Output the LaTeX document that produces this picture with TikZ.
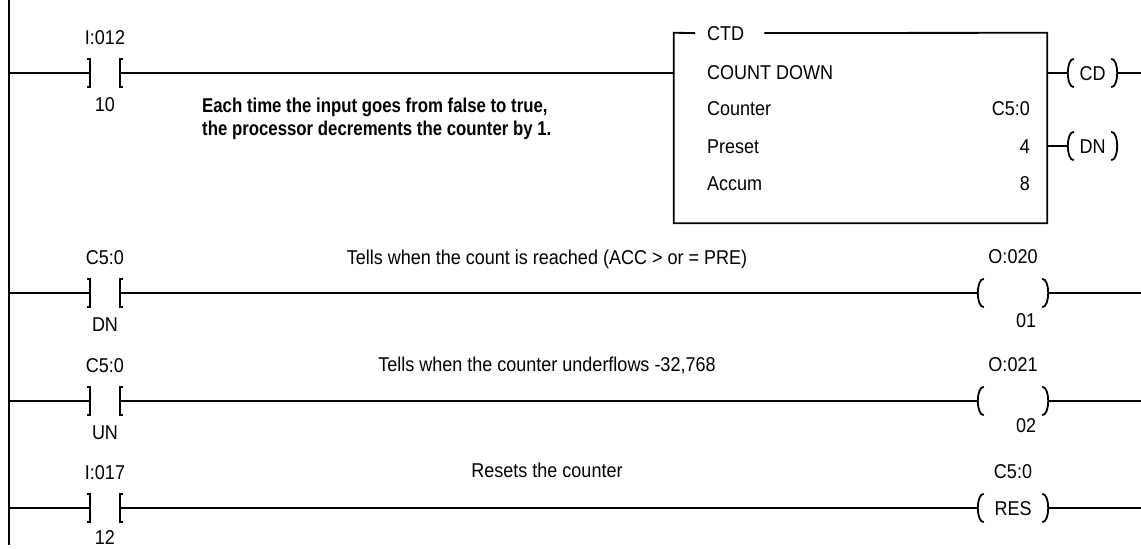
\documentclass[tikz,border=0pt]{standalone}
\usepackage{fontspec}
\setmainfont{Liberation Sans}[FakeStretch=0.9, BoldFeatures={FakeStretch=0.84}]
\usetikzlibrary{positioning}

\begin{document}
\begin{tikzpicture}[x=1pt, y=-1pt, font=\fontsize{20}{23}\selectfont,
    wire/.style = {line width=1.8pt},
    rail/.style = {line width=2.8pt},
    tag/.style = {inner sep=0pt, text height=14pt, text depth=0pt},
    contact/.style = {minimum width=30pt, minimum height=27pt, inner sep=0pt},
    coil/.style = {tag, minimum height=28pt}]
  \useasboundingbox (0,0) rectangle (1141,549);

  % power rail
  \coordinate (railtop) at (9,0);
  \coordinate (railbot) at (9,545);
  \coordinate (edge) at (1141,0);
  \draw[rail] (railtop) -- (railbot);

  % contacts
  \node[contact] (c1) at (105,73) {};
  \node[contact] (c2) at (105,293) {};
  \node[contact] (c3) at (105,401) {};
  \node[contact] (c4) at (105,508) {};
  \node[tag, above=15pt of c1] (c1a) {I:012};
  \node[tag, below=11pt of c1] (c1b) {10};
  \node[tag, above=15pt of c2] (c2a) {C5:0};
  \node[tag, below=11pt of c2] (c2b) {DN};
  \node[tag, above=15pt of c3] (c3a) {C5:0};
  \node[tag, below=11pt of c3] (c3b) {UN};
  \node[tag, above=15pt of c4] (c4a) {I:017};
  \node[tag, below=9pt of c4] (c4b) {12};
  \foreach \c in {c1, c2, c3, c4} {
    \draw[wire] ([xshift=-3pt]\c.north west) -- (\c.north west) -- (\c.south west) -- ++(-3pt,0);
    \draw[wire] ([xshift=3pt]\c.north east) -- (\c.north east) -- (\c.south east) -- ++(3pt,0);
  }

  % counter block
  \node[minimum width=373pt, minimum height=190pt, inner sep=0pt] (ctd) at (860.5,128) {};
  \node[tag, anchor=west] (ctdt) at (707,33) {CTD};
  \draw[wire] ([xshift=-12pt]ctdt.west) -- (ctd.north west) -- (ctd.south west)
    -- (ctd.south east) -- (ctd.north east) -- ([xshift=20pt]ctdt.east);
  \node[tag, anchor=west] (name) at (707,72) {COUNT DOWN};
  \node[tag, anchor=west] (cnt) at (707,108) {Counter};
  \node[tag, anchor=west] (pre) at (707,146) {Preset};
  \node[tag, anchor=west] (acc) at (707,183) {Accum};
  \node[tag, anchor=east] (cntv) at (1030,108) {C5:0};
  \node[tag, anchor=east] (prev) at (1030,146) {4};
  \node[tag, anchor=east] (accv) at (1030,183) {8};

  % coils
  \node[coil, minimum width=49pt] (cd) at (1092.5,73) {CD};
  \node[coil, minimum width=49pt] (dn) at (1092.5,146) {DN};
  \node[coil, minimum width=70pt] (o2) at (1013,293) {};
  \node[coil, minimum width=70pt] (o3) at (1013,401) {};
  \node[coil, minimum width=70pt] (o4) at (1013,508) {RES};
  \node[tag, above=15pt of o2] (o2a) {O:020};
  \node[tag, below=6pt of o2, xshift=13pt] (o2b) {01};
  \node[tag, above=15pt of o3] (o3a) {O:021};
  \node[tag, below=3pt of o3, xshift=13pt] (o3b) {02};
  \node[tag, above=15pt of o4] (o4a) {C5:0};
  \foreach \o in {cd, dn, o2, o3, o4} {
    \draw[wire] ([xshift=6pt]\o.north west) .. controls ([xshift=-2pt]\o.north west) and ([xshift=-2pt]\o.south west) .. ([xshift=6pt]\o.south west);
    \draw[wire] ([xshift=-6pt]\o.north east) .. controls ([xshift=2pt]\o.north east) and ([xshift=2pt]\o.south east) .. ([xshift=-6pt]\o.south east);
  }

  % rungs
  \draw[wire] (c1 -| railtop) -- (c1.west);
  \draw[wire] (c1.east) -- (c1 -| ctd.west);
  \draw[wire] (cd -| ctd.east) -- (cd.west);
  \draw[wire] (cd.east) -- (cd -| edge);
  \draw[wire] (dn -| ctd.east) -- (dn.west);
  \foreach \n in {2, 3, 4} {
    \draw[wire] (c\n -| railtop) -- (c\n.west);
    \draw[wire] (c\n.east) -- (o\n.west);
    \draw[wire] (o\n.east) -- (o\n -| edge);
  }

  % comments
  \node[inner sep=0pt, anchor=north west, align=left, font=\fontsize{20}{23}\selectfont\bfseries] (note) at (202,98)
    {Each time the input goes from false to true,\\the processor decrements the counter by 1.};
  \node[tag] (msg2) at (547,257) {Tells when the count is reached (ACC > or = PRE)};
  \node[tag] (msg3) at (547,364) {Tells when the counter underflows -32,768};
  \node[tag] (msg4) at (547,470) {Resets the counter};
\end{tikzpicture}
\end{document}
